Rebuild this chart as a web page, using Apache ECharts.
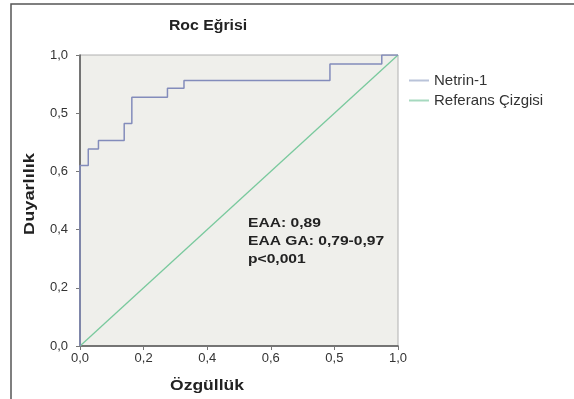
<!DOCTYPE html>
<html><head><meta charset="utf-8">
<script src="https://cdn.jsdelivr.net/npm/echarts@6/dist/echarts.min.js"></script>
<style>html,body{margin:0;padding:0;background:#fff}#c{width:574px;height:399px}</style>
</head><body><div id="c"></div>
<script>
var titleText = 'Roc Eğrisi';
var xAxisName = 'Özgüllük';
var yAxisName = 'Duyarlılık';
var xTickLabels = ['0,0','0,2','0,4','0,6','0,5','1,0'];
var yTickLabels = ['0,0','0,2','0,4','0,6','0,5','1,0'];
var rocFpr = [0, 0, 0.026, 0.058, 0.139, 0.163, 0.275, 0.327, 0.786, 0.949, 1.0];
var rocTpr = [0, 0.62, 0.677, 0.706, 0.765, 0.855, 0.886, 0.912, 0.969, 1.0, 1.0];
var refX = [0, 1];
var refY = [0, 1];
var seriesNames = ['Netrin-1', 'Referans Çizgisi'];
var annotation = ['EAA: 0,89', 'EAA GA: 0,79-0,97', 'p<0,001'];

function pairs(a, b){ return a.map(function(v,i){ return [v, b[i]]; }); }
var chart = echarts.init(document.getElementById('c'));
var font = 'Liberation Sans, Arial, sans-serif';
chart.setOption({
  animation: false,
  textStyle: { fontFamily: font },
  grid: { left: 80, top: 55, width: 318, height: 291, show: true, backgroundColor: '#efefeb', borderColor: '#b0b0b0', borderWidth: 1 },
  xAxis: {
    type: 'value', min: 0, max: 1, interval: 0.2,
    axisLine: { show: true, onZero: false, lineStyle: { color: '#555', width: 1.5 } },
    axisTick: { show: true, length: 4, lineStyle: { color: '#777' } },
    splitLine: { show: false },
    axisLabel: { color: '#333', fontSize: 13, margin: 6, formatter: function(v){ return xTickLabels[Math.round(v/0.2)]; } }
  },
  yAxis: {
    type: 'value', min: 0, max: 1, interval: 0.2,
    axisLine: { show: true, onZero: false, lineStyle: { color: '#555', width: 1.5 } },
    axisTick: { show: true, length: 4, lineStyle: { color: '#777' } },
    splitLine: { show: false },
    axisLabel: { color: '#333', fontSize: 13, margin: 12, formatter: function(v){ return yTickLabels[Math.round(v/0.2)]; } }
  },
  legend: {
    orient: 'vertical', left: 404, top: 68, itemGap: 5, itemWidth: 20, itemHeight: 2, icon: 'rect',
    textStyle: { color: '#333', fontSize: 15, fontFamily: font },
    data: [
      { name: seriesNames[0], itemStyle: { color: '#b9c3d9' } },
      { name: seriesNames[1], itemStyle: { color: '#a6d9bf' } }
    ]
  },
  series: [
    { name: seriesNames[0], type: 'line', step: 'end', symbol: 'none', data: pairs(rocFpr, rocTpr), lineStyle: { color: '#838cbb', width: 1.5 }, itemStyle: { color: '#838cbb' }, z: 3 },
    { name: seriesNames[1], type: 'line', symbol: 'none', data: pairs(refX, refY), lineStyle: { color: '#79c99d', width: 1.3 }, itemStyle: { color: '#79c99d' }, z: 2 }
  ],
  graphic: [
    { type: 'polyline', shape: { points: [[11, 399], [11, 4], [574, 4]] }, style: { fill: 'none', stroke: '#555', lineWidth: 1.5 }, silent: true },
    { type: 'text', x: 208, y: 26, scaleX: 1.13, style: { text: titleText, font: 'bold 14px ' + font, fill: '#222', textAlign: 'center', textVerticalAlign: 'middle' } },
    { type: 'text', x: 207, y: 386, scaleX: 1.25, style: { text: xAxisName, font: 'bold 14px ' + font, fill: '#222', textAlign: 'center', textVerticalAlign: 'middle' } },
    { type: 'text', x: 30, y: 194, rotation: Math.PI/2, scaleX: 1.3, style: { text: yAxisName, font: 'bold 14px ' + font, fill: '#222', textAlign: 'center', textVerticalAlign: 'middle' } },
    { type: 'text', x: 248, y: 223, scaleX: 1.2, style: { text: annotation[0], font: 'bold 13px ' + font, fill: '#222', textVerticalAlign: 'middle' } },
    { type: 'text', x: 248, y: 241, scaleX: 1.2, style: { text: annotation[1], font: 'bold 13px ' + font, fill: '#222', textVerticalAlign: 'middle' } },
    { type: 'text', x: 248, y: 259, scaleX: 1.2, style: { text: annotation[2], font: 'bold 13px ' + font, fill: '#222', textVerticalAlign: 'middle' } }
  ]
});
</script></body></html>
